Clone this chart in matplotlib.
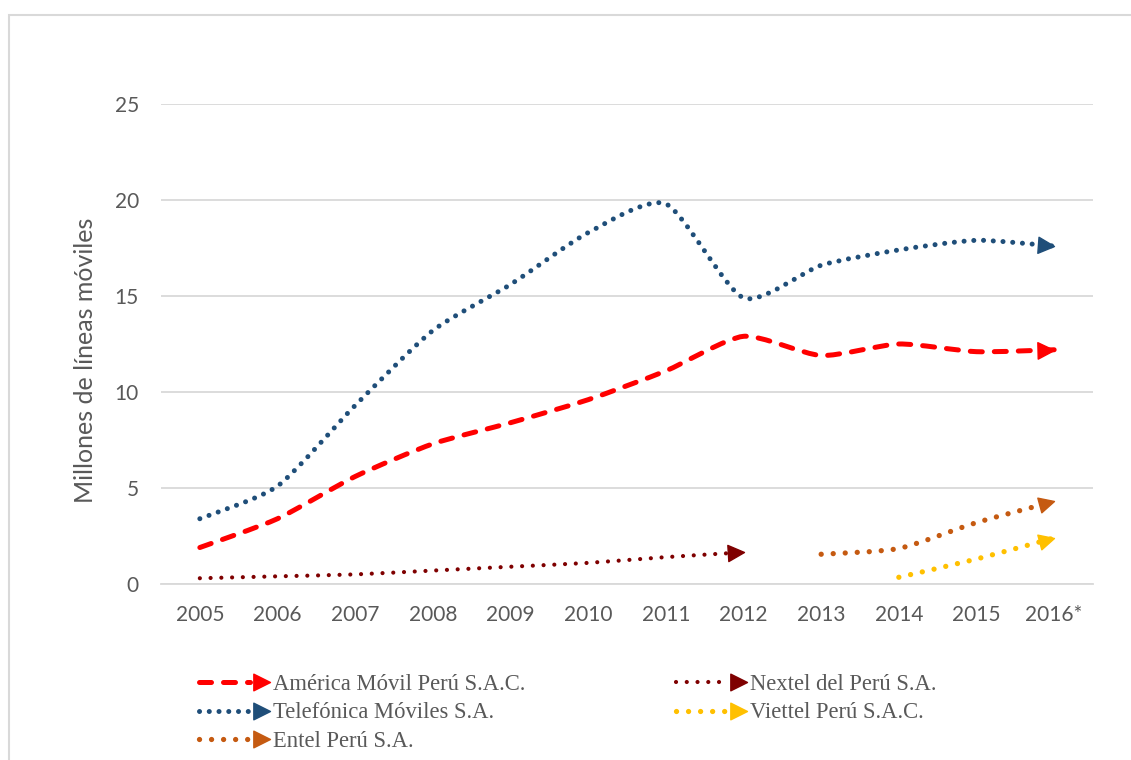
import numpy as np
import matplotlib
matplotlib.use("Agg")
import matplotlib.pyplot as plt
from matplotlib.path import Path
from matplotlib.patches import PathPatch, Rectangle
from matplotlib.lines import Line2D
from matplotlib.legend_handler import HandlerBase


anios = ["2005", "2006", "2007", "2008", "2009", "2010",
         "2011", "2012", "2013", "2014", "2015", "2016*"]

# millones de lineas por operador (None = sin dato)
america = [1.9, 3.4, 5.6, 7.3, 8.4, 9.6, 11.1, 12.9, 11.9, 12.5, 12.1, 12.2]
telefonica = [3.4, 5.1, 9.3, 13.2, 15.6, 18.3, 19.8, 14.9, 16.6, 17.4, 17.9, 17.6]
nextel = [0.3, 0.4, 0.5, 0.7, 0.9, 1.1, 1.4, 1.65, None, None, None, None]
entel = [None, None, None, None, None, None, None, None, 1.55, 1.85, 3.2, 4.3]
viettel = [None, None, None, None, None, None, None, None, None, 0.35, 1.3, 2.4]

nombres = ["América Móvil Perú S.A.C.", "Telefónica Móviles S.A.", "Entel Perú S.A.",
           "Nextel del Perú S.A.", "Viettel Perú S.A.C."]
series = [america, telefonica, entel, nextel, viettel]

# estilo de cada linea: color, grosor, patron
estilos = [
    ("#FF0000", 3.6, (0, (2.4, 2.4))),
    ("#1F4E79", 3.6, (0, (0.01, 1.94))),
    ("#C55A11", 3.8, (0, (0.01, 2.27))),
    ("#7F0000", 3.0, (0, (0.01, 2.57))),
    ("#FFC000", 3.8, (0, (0.01, 2.27))),
]

gris = "#595959"
grid_color = "#d9d9d9"

# punta de flecha con la punta en el origen
punta = np.array([[0.0, 0.0], [-1.0, 0.5], [-1.0, -0.5], [0.0, 0.0]])


def curva_suave(x, y):
    # curva tipo excel (catmull-rom -> bezier, algo mas tensa)
    pts = np.column_stack([x, y])
    n = len(pts)
    verts = [pts[0]]
    codes = [Path.MOVETO]
    k = 1 / 9.0
    for i in range(n - 1):
        p0 = pts[i - 1] if i > 0 else pts[i]
        p1 = pts[i]
        p2 = pts[i + 1]
        p3 = pts[i + 2] if i + 2 < n else pts[i + 1]
        c1 = p1 + (p2 - p0) * k
        c2 = p2 - (p3 - p1) * k
        verts += [c1, c2, p2]
        codes += [Path.CURVE4] * 3
    return Path(verts, codes)


def marcador_flecha(ang):
    c, s = np.cos(ang), np.sin(ang)
    rot = np.array([[c, -s], [s, c]])
    return Path(punta @ rot.T, [Path.MOVETO, Path.LINETO, Path.LINETO, Path.CLOSEPOLY])


class FlechaHandler(HandlerBase):
    def create_artists(self, legend, orig_handle, xdescent, ydescent,
                       width, height, fontsize, trans):
        y = height / 2.0 - ydescent
        x0 = -xdescent
        x1 = width - xdescent
        linea = Line2D([x0 + 3, x1 - 14], [y, y], color=orig_handle.get_color(),
                       lw=orig_handle.get_linewidth(), linestyle=orig_handle.patron,
                       dash_capstyle="round", solid_capstyle="round")
        cab = Line2D([x1], [y], marker=marcador_flecha(0.0), markersize=24,
                     color=orig_handle.get_color(), linestyle="none")
        linea.set_transform(trans)
        cab.set_transform(trans)
        return [linea, cab]


fig = plt.figure(figsize=(11.31, 7.6), dpi=100)
ax = fig.add_axes([161 / 1131, 1 - 584 / 760, 932 / 1131, 480 / 760])

ax.set_xlim(-0.5, len(anios) - 0.5)
ax.set_ylim(0, 25)

handles = []
for vals, (col, lw, ls), nom in zip(series, estilos, nombres):
    xs = np.array([i for i, v in enumerate(vals) if v is not None], dtype=float)
    ys = np.array([v for v in vals if v is not None], dtype=float)
    patch = PathPatch(curva_suave(xs, ys), facecolor="none", edgecolor=col, lw=lw,
                      linestyle=ls, capstyle="round", joinstyle="round", zorder=3)
    ax.add_patch(patch)
    # orientacion de la flecha en pixeles
    d = ax.transData.transform([[xs[-2], ys[-2]], [xs[-1], ys[-1]]])
    ang = np.arctan2(d[1, 1] - d[0, 1], d[1, 0] - d[0, 0])
    ax.plot(xs[-1], ys[-1], marker=marcador_flecha(ang), markersize=24, color=col,
            linestyle="none", zorder=4)
    h = Line2D([], [], color=col, lw=lw, linestyle=ls, label=nom)
    h.patron = ls
    handles.append(h)

ax.set_xticks(range(len(anios)))
ax.set_xticklabels(anios)
ax.set_yticks([0, 5, 10, 15, 20, 25])
ax.tick_params(axis="both", length=0, labelsize=15, labelcolor=gris)
ax.tick_params(axis="y", pad=16)
ax.tick_params(axis="x", pad=15)
for lab in ax.get_xticklabels() + ax.get_yticklabels():
    lab.set_family("Lato")

ax.grid(axis="y", color=grid_color, lw=1.3)
ax.set_axisbelow(True)
for s in ["top", "right", "left"]:
    ax.spines[s].set_visible(False)
ax.spines["bottom"].set_color(grid_color)
ax.spines["bottom"].set_linewidth(1.3)

ax.set_ylabel("Millones de líneas móviles", fontsize=18, color=gris, family="Lato")
ax.yaxis.set_label_coords(-0.0687, 0.465)

leg = fig.legend(handles=handles, loc="upper left", bbox_to_anchor=(195 / 1131, 1 - 674 / 760),
                 ncol=2, frameon=False, borderpad=0, borderaxespad=0,
                 handler_map={Line2D: FlechaHandler()},
                 handlelength=3.3, handletextpad=0.13, labelspacing=0.33, columnspacing=6.5,
                 prop={"family": "Liberation Serif", "size": 16.3})
for t in leg.get_texts():
    t.set_color(gris)

# marco del grafico
fig.patches.append(Rectangle((9 / 1131, -0.1), 1.2, 1.1 - 15 / 760, transform=fig.transFigure,
                             fill=False, edgecolor=grid_color, lw=1.5))

fig.savefig("out.png", dpi=100)
